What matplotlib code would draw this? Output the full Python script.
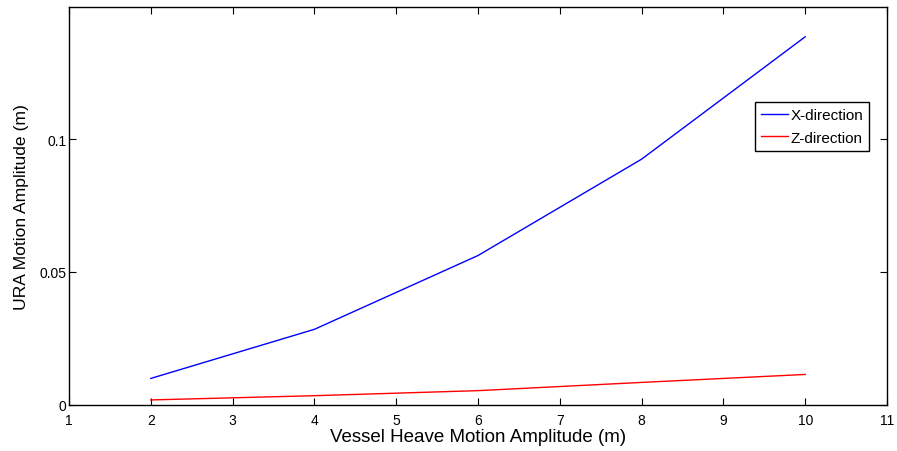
import matplotlib
matplotlib.use("Agg")
import matplotlib.pyplot as plt

# values
heave = [2, 4, 6, 8, 10]
x_dir = [0.0099, 0.0284, 0.0562, 0.0925, 0.1386]
z_dir = [0.0018, 0.0034, 0.0053, 0.0084, 0.0114]
xticks = [1, 2, 3, 4, 5, 6, 7, 8, 9, 10, 11]
yticks = [0, 0.05, 0.1]
ytick_labels = ["0", "0.05", "0.1"]

plt.rcParams['font.family'] = ['Liberation Sans', 'DejaVu Sans']

fig = plt.figure(figsize=(8.97, 4.52), dpi=100)
ax = fig.add_axes([0.0769, 0.1024, 0.9120, 0.8810])

ax.plot(heave, x_dir, color='#0000ff', lw=1.0, label='X-direction')
ax.plot(heave, z_dir, color='#ff0000', lw=1.0, label='Z-direction')

ax.set_xlim(1, 11)
ax.set_ylim(0, 0.15)
ax.set_xticks(xticks)
ax.set_yticks(yticks)
ax.set_yticklabels(ytick_labels)
ax.tick_params(direction='in', top=True, right=True, labelsize=10, length=5, width=0.8)
ax.tick_params(axis='x', pad=6)
ax.tick_params(axis='y', pad=2)
for s in ax.spines.values():
    s.set_linewidth(1.0)

ax.set_xlabel('Vessel Heave Motion Amplitude (m)', fontsize=13.5, labelpad=1)
ax.set_ylabel('URA Motion Amplitude (m)', fontsize=12.6, labelpad=7)

leg = ax.legend(loc='upper left', bbox_to_anchor=(0.839, 0.760), fontsize=11,
                fancybox=False, edgecolor='black', framealpha=1,
                handlelength=1.75, handletextpad=0.15, borderpad=0.4,
                labelspacing=0.55, borderaxespad=0)
leg.get_frame().set_linewidth(1.0)

fig.savefig('out.png', dpi=100)
